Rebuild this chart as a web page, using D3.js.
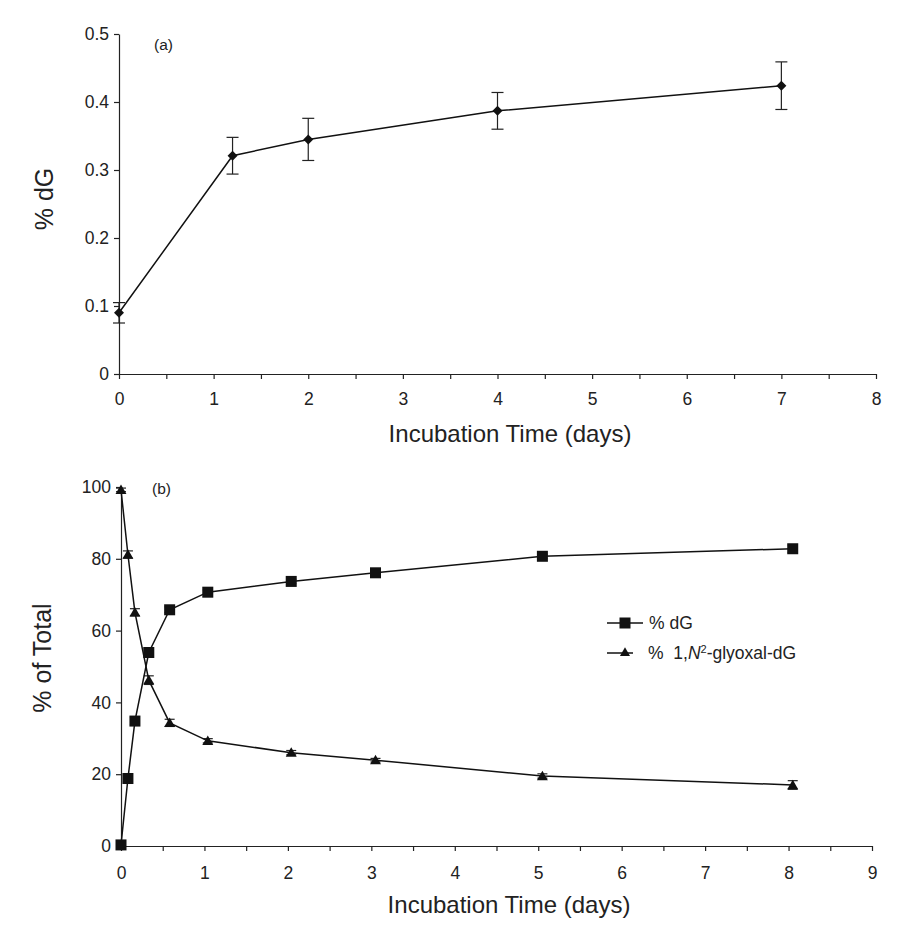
<!DOCTYPE html>
<html>
<head>
<meta charset="utf-8">
<script src="https://cdn.jsdelivr.net/npm/d3@7"></script>
<style>
  body { margin: 0; background: #fff; }
  svg { font-family: "Liberation Sans", Arial, sans-serif; }
</style>
</head>
<body>
<div id="chart"></div>
<script>
// panel (a)
const timeA = [0, 1.2, 2, 4, 7];
const dgA = [0.09, 0.321, 0.345, 0.387, 0.424];
const errA = [0.015, 0.027, 0.031, 0.027, 0.035];

// panel (b)
const timeB = [0, 0.083, 0.167, 0.333, 0.583, 1.04, 2.04, 3.05, 5.05, 8.05];
const dgB = [0.3, 18.8, 34.8, 53.9, 65.8, 70.7, 73.7, 76.1, 80.7, 82.8];
const dgBerr = [0.3, 1, 1, 1.2, 0.8, 0.6, 0.6, 0.6, 0.6, 1];
const glyB = [99.2, 81.2, 65.1, 46.2, 34.3, 29.3, 26.0, 23.9, 19.5, 17.0];
const glyBerr = [0.5, 1, 1, 1.2, 1, 0.6, 0.6, 0.5, 0.6, 1.2];

const ticksA_y = [0, 0.1, 0.2, 0.3, 0.4, 0.5];
const ticksB_y = [0, 20, 40, 60, 80, 100];

const svg = d3.select("#chart").append("svg")
    .attr("width", 903)
    .attr("height", 929);

const ink = "#111";

function drawAxes(g, x, y, xTicks, yTicks, yFmt, xPad) {
    const xa = g.append("g")
        .attr("transform", `translate(0,${y.range()[0]})`)
        .call(d3.axisBottom(x).tickValues(xTicks).tickSize(5).tickSizeOuter(0)
            .tickPadding(xPad)
            .tickFormat(d => Number.isInteger(d) ? d : ""));
    const ya = g.append("g")
        .attr("transform", `translate(${x.range()[0]},0)`)
        .call(d3.axisLeft(y).tickValues(yTicks).tickSize(5).tickSizeOuter(0)
            .tickPadding(5).tickFormat(yFmt));
    [xa, ya].forEach(a => {
        a.selectAll("path, line").attr("stroke", "#222").attr("stroke-width", 1.2);
        a.selectAll("text").attr("fill", "#222").style("font-size", "17.5px")
            .style("font-family", "'Liberation Sans', Arial, sans-serif");
    });
}

function errBars(g, xs, ys, es, x, y, cap) {
    const eb = g.append("g").attr("stroke", "#222").attr("stroke-width", 1.2);
    xs.forEach((t, i) => {
        const cx = x(t), hi = y(ys[i] + es[i]), lo = y(ys[i] - es[i]);
        eb.append("line").attr("x1", cx).attr("x2", cx).attr("y1", hi).attr("y2", lo);
        eb.append("line").attr("x1", cx - cap).attr("x2", cx + cap).attr("y1", hi).attr("y2", hi);
        eb.append("line").attr("x1", cx - cap).attr("x2", cx + cap).attr("y1", lo).attr("y2", lo);
    });
}

// ---- panel (a)
const xA = d3.scaleLinear().domain([0, 8]).range([119, 876]);
const yA = d3.scaleLinear().domain([0, 0.5]).range([374, 34]);
const gA = svg.append("g");
drawAxes(gA, xA, yA, d3.range(0, 8.01, 0.5), ticksA_y, d => d === 0 ? "0" : d3.format(".1f")(d), 14);

errBars(gA, timeA, dgA, errA, xA, yA, 6);
gA.append("path")
    .datum(timeA.map((t, i) => [t, dgA[i]]))
    .attr("fill", "none").attr("stroke", ink).attr("stroke-width", 1.5)
    .attr("d", d3.line().x(d => xA(d[0])).y(d => yA(d[1])));
gA.append("g").selectAll("path")
    .data(timeA.map((t, i) => [t, dgA[i]]))
    .join("path")
    .attr("transform", d => `translate(${xA(d[0])},${yA(d[1])})`)
    .attr("d", d3.symbol(d3.symbolDiamond2, 64))
    .attr("fill", ink);

gA.append("text").attr("x", 154).attr("y", 50).style("font-size", "15.5px").attr("fill", "#222").text("(a)");
gA.append("text").attr("x", 510).attr("y", 442).attr("text-anchor", "middle")
    .style("font-size", "24px").attr("fill", "#222").text("Incubation Time (days)");
gA.append("text").attr("transform", "translate(53,199) rotate(-90)").attr("text-anchor", "middle")
    .style("font-size", "25px").attr("fill", "#222").text("% dG");

// ---- panel (b)
const xB = d3.scaleLinear().domain([0, 9]).range([121, 872]);
const yB = d3.scaleLinear().domain([0, 100]).range([846, 487]);
const gB = svg.append("g");
drawAxes(gB, xB, yB, d3.range(0, 9.01, 0.5), ticksB_y, d3.format("d"), 16);

errBars(gB, timeB, dgB, dgBerr, xB, yB, 5);
errBars(gB, timeB, glyB, glyBerr, xB, yB, 5);

const lineB = d3.line().x(d => xB(d[0])).y(d => yB(d[1]));
const ptsDg = timeB.map((t, i) => [t, dgB[i]]);
const ptsGly = timeB.map((t, i) => [t, glyB[i]]);

gB.append("path").datum(ptsDg).attr("fill", "none").attr("stroke", ink).attr("stroke-width", 1.5).attr("d", lineB);
gB.append("path").datum(ptsGly).attr("fill", "none").attr("stroke", ink).attr("stroke-width", 1.5).attr("d", lineB);

gB.append("g").selectAll("rect").data(ptsDg).join("rect")
    .attr("x", d => xB(d[0]) - 5.5).attr("y", d => yB(d[1]) - 5.5)
    .attr("width", 11).attr("height", 11).attr("fill", ink);
gB.append("g").selectAll("path").data(ptsGly).join("path")
    .attr("transform", d => `translate(${xB(d[0])},${yB(d[1]) + 1})`)
    .attr("d", d3.symbol(d3.symbolTriangle, 52))
    .attr("fill", ink);

gB.append("text").attr("x", 152).attr("y", 494).style("font-size", "15.5px").attr("fill", "#222").text("(b)");
gB.append("text").attr("x", 509).attr("y", 913).attr("text-anchor", "middle")
    .style("font-size", "24px").attr("fill", "#222").text("Incubation Time (days)");
gB.append("text").attr("transform", "translate(51,658) rotate(-90)").attr("text-anchor", "middle")
    .style("font-size", "25px").attr("fill", "#222").text("% of Total");

// legend
const leg = gB.append("g").attr("transform", "translate(607,623)");
leg.append("line").attr("x1", 0).attr("x2", 36).attr("y1", 0).attr("y2", 0).attr("stroke", ink).attr("stroke-width", 1.5);
leg.append("rect").attr("x", 12.5).attr("y", -5.5).attr("width", 11).attr("height", 11).attr("fill", ink);
leg.append("text").attr("x", 42).attr("y", 6).style("font-size", "17.5px").attr("fill", "#222").text("% dG");

leg.append("line").attr("x1", 0).attr("x2", 26).attr("y1", 30).attr("y2", 30).attr("stroke", ink).attr("stroke-width", 1.5);
leg.append("path").attr("transform", "translate(18,30)").attr("d", d3.symbol(d3.symbolTriangle, 44)).attr("fill", ink);
const lt = leg.append("text").attr("x", 41).attr("y", 36).style("font-size", "17.5px").attr("fill", "#222");
lt.append("tspan").text("%\u00a0 1,");
lt.append("tspan").style("font-style", "italic").text("N");
lt.append("tspan").attr("dy", -6).style("font-size", "11px").text("2");
lt.append("tspan").attr("dy", 6).text("-glyoxal-dG");
</script>
</body>
</html>
